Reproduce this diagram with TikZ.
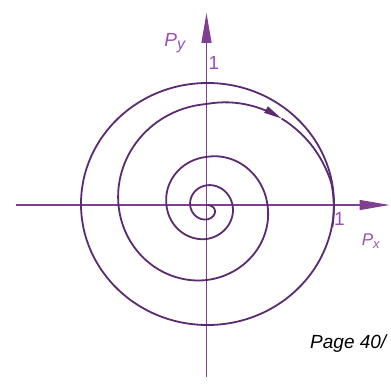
\documentclass[tikz,border=0pt]{standalone}
\usepackage{tikz}
\usetikzlibrary{arrows.meta}
\usepackage{fontspec}
\setmainfont{Liberation Sans}
\definecolor{trajpurple}{HTML}{5B2A70}
\definecolor{axispurple}{HTML}{7E3F94}
\definecolor{labelpurple}{HTML}{9B4FB5}

\begin{document}
\begin{tikzpicture}[x=1pt, y=1pt, font=\fontsize{17}{20}\selectfont\itshape,
    declare function={sprad(\p)=(\p<360) ? (15*(1-exp(-\p/30)) + 11*(\p/360)^3) :
        (26 + 0.089*(\p-360) - 0.022*max(0,\p-450) + 0.022*max(0,\p-540)
         + 0.055*max(0,\p-630) + 0.012*max(0,\p-720) - 0.012*max(0,\p-810)
         + 0.186*max(0,\p-990) - 0.03*max(0,\p-1050) - 0.25*max(0,\p-1070));}]
    \useasboundingbox (-206.5,-181) rectangle (184.5,205);
    \tikzset{axisline/.style={draw=axispurple, line width=1.1pt,
                 -{Triangle[length=30pt,width=10pt]}},
             trajline/.style={draw=trajpurple, line width=1.8pt, line join=round},
             axislabel/.style={text=labelpurple, inner sep=0pt}}
    \coordinate (o) at (0,0);
    \coordinate (xstart) at (-190,0);
    \coordinate (xend) at (183,0);
    \coordinate (ystart) at (0,-172);
    \coordinate (yend) at (0,192);
    \draw[axisline] (xstart) -- (xend);
    \draw[axisline] (ystart) -- (yend);
    % limit cycle
    \draw[trajline] (1,1) ellipse [x radius=126.5, y radius=121];
    % trajectory spiralling out towards it
    \draw[trajline, -{Triangle[length=18pt,width=7pt]}]
        plot[domain=0:1031, samples=360, variable=\p] ({-\p}:{sprad(\p)});
    \draw[trajline]
        plot[domain=1031:1090, samples=30, variable=\p] ({-\p}:{sprad(\p)});
    \node[axislabel, font=\fontsize{19}{20}\selectfont\itshape] (py) at (-31.5,162)
        {P\textsubscript{\fontsize{16}{17}\selectfont y}};
    \node[axislabel, font=\fontsize{19}{20}\selectfont] (oney) at (7.5,142) {1};
    \node[axislabel, font=\fontsize{19}{20}\selectfont] (onex) at (133,-14) {1};
    \node[axislabel] (px) at (164.5,-36) {P\textsubscript{\fontsize{13}{14}\selectfont x}};
    \node[anchor=base west, inner sep=0pt, font=\fontsize{19}{22}\selectfont\itshape] (page) at (103.5,-143) {Page 40/};
\end{tikzpicture}
\end{document}
